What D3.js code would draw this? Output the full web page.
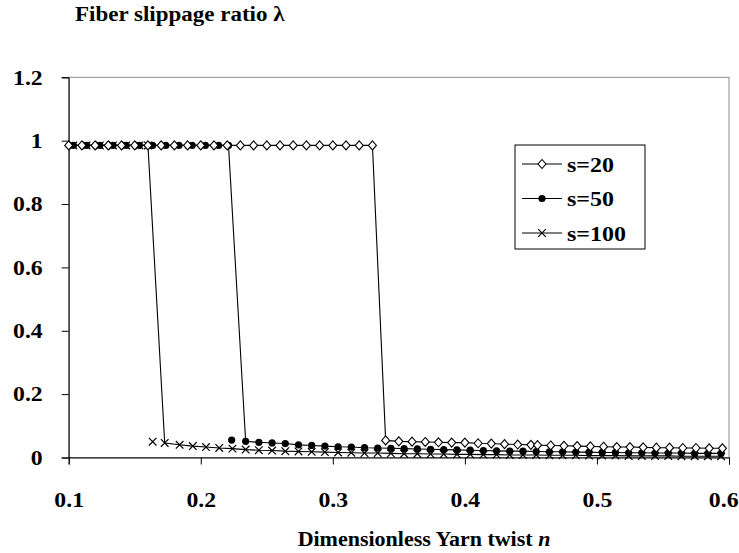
<!DOCTYPE html>
<html>
<head>
<meta charset="utf-8">
<script src="https://cdn.jsdelivr.net/npm/d3@7"></script>
<style>
  body { margin: 0; background: #fff; }
  svg text { font-family: "Liberation Serif", "Times New Roman", Times, serif; font-weight: bold; }
</style>
</head>
<body>
<div id="chart"></div>
<script>
// ---- data ----
var xTicks = [0.1, 0.2, 0.3, 0.4, 0.5, 0.6];
var yTicks = [0, 0.2, 0.4, 0.6, 0.8, 1, 1.2];
var seriesNames = ["s=20", "s=50", "s=100"];

// s=20
var s20X = [0.10, 0.11, 0.12, 0.13, 0.14, 0.15, 0.16, 0.17, 0.18, 0.19, 0.20, 0.21,
  0.22, 0.23, 0.24, 0.25, 0.26, 0.27, 0.28, 0.29, 0.30, 0.31, 0.32, 0.33,
  0.34, 0.35, 0.36, 0.37, 0.38, 0.39, 0.40, 0.41, 0.42, 0.43, 0.44, 0.45,
  0.455, 0.465, 0.475, 0.485, 0.495, 0.505, 0.515, 0.525, 0.535, 0.545, 0.555,
  0.565, 0.575, 0.585, 0.595];
var s20Y = [0.985, 0.985, 0.985, 0.985, 0.985, 0.985, 0.985, 0.985, 0.985, 0.985, 0.985, 0.985,
  0.985, 0.985, 0.985, 0.985, 0.985, 0.985, 0.985, 0.985, 0.985, 0.985, 0.985, 0.985,
  0.054, 0.051, 0.050, 0.049, 0.048, 0.047, 0.047, 0.045, 0.044, 0.042, 0.041, 0.040,
  0.039, 0.038, 0.037, 0.036, 0.035, 0.034, 0.033, 0.033, 0.032, 0.031, 0.031,
  0.030, 0.030, 0.029, 0.029];

// s=50
var s50X = [0.1035, 0.1135, 0.1235, 0.1335, 0.1435, 0.1535, 0.1635, 0.1735, 0.1835, 0.1935,
  0.2035, 0.2135, 0.221,
  0.234, 0.244, 0.254, 0.264, 0.274, 0.284, 0.294, 0.304, 0.314, 0.324, 0.334, 0.344,
  0.354, 0.364, 0.374, 0.384, 0.394, 0.404, 0.414, 0.424, 0.434, 0.444, 0.454, 0.464,
  0.474, 0.484, 0.494, 0.504, 0.514, 0.524, 0.534, 0.544, 0.554, 0.564, 0.574, 0.584, 0.594];
var s50Y = [0.985, 0.985, 0.985, 0.985, 0.985, 0.985, 0.985, 0.985, 0.985, 0.985,
  0.985, 0.985, 0.985,
  0.051, 0.048, 0.046, 0.044, 0.040, 0.038, 0.036, 0.034, 0.033, 0.031, 0.030, 0.029,
  0.028, 0.027, 0.026, 0.025, 0.024, 0.023, 0.022, 0.021, 0.020, 0.020, 0.019, 0.018,
  0.018, 0.017, 0.017, 0.016, 0.016, 0.015, 0.015, 0.014, 0.014, 0.014, 0.013, 0.013, 0.013];
// marker that the line does not go through
var s50StrayX = [0.2234];
var s50StrayY = [0.055];

// s=100
var s100X = [0.1035, 0.1135, 0.1235, 0.1335, 0.1435, 0.1535, 0.16,
  0.1727, 0.184, 0.194, 0.204, 0.214, 0.224, 0.234, 0.244, 0.254, 0.264, 0.274, 0.284,
  0.294, 0.304, 0.314, 0.324, 0.334, 0.344, 0.354, 0.364, 0.374, 0.384, 0.394, 0.404,
  0.414, 0.424, 0.434, 0.444, 0.454, 0.464, 0.474, 0.484, 0.494, 0.504, 0.514, 0.524,
  0.534, 0.544, 0.554, 0.564, 0.574, 0.584, 0.594];
var s100Y = [0.985, 0.985, 0.985, 0.985, 0.985, 0.985, 0.985,
  0.046, 0.040, 0.036, 0.033, 0.030, 0.028, 0.025, 0.023, 0.022, 0.020, 0.019, 0.018,
  0.017, 0.016, 0.015, 0.014, 0.014, 0.013, 0.012, 0.012, 0.011, 0.011, 0.010, 0.010,
  0.009, 0.009, 0.008, 0.008, 0.008, 0.007, 0.007, 0.007, 0.006, 0.006, 0.006, 0.005,
  0.005, 0.005, 0.005, 0.004, 0.004, 0.004, 0.004];
var s100StrayX = [0.1636];
var s100StrayY = [0.050];


var width = 739,
  height = 553;

var x = d3.scaleLinear().domain([0.1, 0.6]).range([68.7, 729]);
var y = d3.scaleLinear().domain([0, 1.2]).range([457.5, 77.3]);

var svg = d3.select("#chart")
  .append("svg")
  .attr("width", width)
  .attr("height", height);

function zip(xs, ys) {
  return xs.map(function (v, i) { return [v, ys[i]]; });
}

// the original text is a bit wider than it is tall
function stretch(sel, k) {
  sel.each(function () {
    var t = d3.select(this);
    var tx = +t.attr("x") || 0, ty = +t.attr("y") || 0;
    t.attr("transform", "translate(" + tx + "," + ty + ") scale(" + k + ",1) translate(" + (-tx) + "," + (-ty) + ")");
  });
}

var series = [
  { name: seriesNames[0], pts: zip(s20X, s20Y), stray: [], mark: "diamond" },
  { name: seriesNames[1], pts: zip(s50X, s50Y), stray: zip(s50StrayX, s50StrayY), mark: "dot" },
  { name: seriesNames[2], pts: zip(s100X, s100Y), stray: zip(s100StrayX, s100StrayY), mark: "cross" }
];

// plot frame
svg.append("rect")
  .attr("x", x(0.1)).attr("y", y(1.2))
  .attr("width", x(0.6) - x(0.1)).attr("height", y(0) - y(1.2))
  .attr("fill", "none").attr("stroke", "#8c8c8c").attr("stroke-width", 1);

// axes
var xAxis = svg.append("g")
  .attr("transform", "translate(0," + y(0) + ")")
  .call(d3.axisBottom(x).tickValues(xTicks).tickSize(7).tickPadding(28)
    .tickFormat(d3.format(".1f")));
var yAxis = svg.append("g")
  .attr("transform", "translate(" + x(0.1) + ",0)")
  .call(d3.axisLeft(y).tickValues(yTicks).tickSize(7).tickPadding(19)
    .tickFormat(function (d) { return d; }));

[xAxis, yAxis].forEach(function (g) {
  g.attr("font-family", null);
  g.select(".domain").attr("stroke", "#000");
  g.selectAll(".tick line").attr("stroke", "#000");
  g.selectAll(".tick text").attr("font-size", 21).attr("fill", "#000");
});
xAxis.selectAll(".tick text").attr("dy", "0.71em");
// last label pulled in so it stays on the page
xAxis.selectAll(".tick text").filter(function (d) { return d == 0.6; })
  .attr("text-anchor", "end").attr("x", 9);
stretch(xAxis.selectAll(".tick text"), 1.13);
stretch(yAxis.selectAll(".tick text"), 1.13);

// marker drawing
function drawMarker(g, kind, cx, cy) {
  if (kind == "diamond") {
    g.append("path")
      .attr("d", "M" + cx + "," + (cy - 4.5) + "L" + (cx + 4) + "," + cy + "L" + cx + "," + (cy + 4.5) + "L" + (cx - 4) + "," + cy + "Z")
      .attr("fill", "#fff").attr("stroke", "#000").attr("stroke-width", 1.1);
  } else if (kind == "dot") {
    g.append("circle").attr("cx", cx).attr("cy", cy).attr("r", 3.6).attr("fill", "#000");
  } else {
    g.append("path")
      .attr("d", "M" + (cx - 3.8) + "," + (cy - 3.8) + "L" + (cx + 3.8) + "," + (cy + 3.8) +
        "M" + (cx - 3.8) + "," + (cy + 3.8) + "L" + (cx + 3.8) + "," + (cy - 3.8))
      .attr("stroke", "#000").attr("stroke-width", 1.2).attr("fill", "none");
  }
}

var line = d3.line()
  .x(function (d) { return x(d[0]); })
  .y(function (d) { return y(d[1]); });

// draw s=100 first so s=20 diamonds sit on top
series.slice().reverse().forEach(function (s) {
  var g = svg.append("g");
  g.append("path")
    .attr("d", line(s.pts))
    .attr("fill", "none").attr("stroke", "#000").attr("stroke-width", 1.1);
  s.pts.concat(s.stray).forEach(function (p) {
    drawMarker(g, s.mark, x(p[0]), y(p[1]));
  });
});

// legend
var leg = svg.append("g");
leg.append("rect")
  .attr("x", 515).attr("y", 145).attr("width", 130).attr("height", 104)
  .attr("fill", "#fff").attr("stroke", "#000").attr("stroke-width", 1);
series.forEach(function (s, i) {
  var ly = 164 + i * 34.5;
  leg.append("line").attr("x1", 522).attr("x2", 562).attr("y1", ly).attr("y2", ly)
    .attr("stroke", "#000").attr("stroke-width", 1.1);
  drawMarker(leg, s.mark, 542, ly);
  leg.append("text").attr("x", 567).attr("y", ly + 8)
    .attr("font-size", 22).text(s.name);
});
stretch(leg.selectAll("text"), 1.09);

// axis titles
var yt = svg.append("text")
  .attr("x", 75).attr("y", 21)
  .attr("font-size", 20)
  .text("Fiber slippage ratio λ");
stretch(yt, 1.15);

var xt = svg.append("text")
  .attr("x", 424).attr("y", 546)
  .attr("text-anchor", "middle")
  .attr("font-size", 20);
xt.append("tspan").text("Dimensionless Yarn twist ");
xt.append("tspan").attr("font-style", "italic").text("n");
stretch(xt, 1.1);
</script>
</body>
</html>
